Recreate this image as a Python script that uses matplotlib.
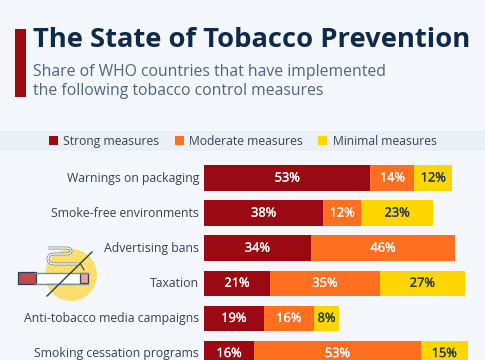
import matplotlib
matplotlib.use("Agg")
import matplotlib.pyplot as plt
import matplotlib.patheffects as pe
from matplotlib.patches import Rectangle, Circle, PathPatch
from matplotlib.path import Path
import numpy as np

categories = ["Warnings on packaging", "Smoke-free environments", "Advertising bans",
              "Taxation", "Anti-tobacco media campaigns", "Smoking cessation programs"]
strong = [53, 38, 34, 21, 19, 16]
moderate = [14, 12, 46, 35, 16, 53]
minimal = [12, 23, 0, 27, 8, 15]
series_names = ["Strong measures", "Moderate measures", "Minimal measures"]
title = "The State of Tobacco Prevention"
subtitle = ["Share of WHO countries that have implemented", "the following tobacco control measures"]

W, H = 485, 360
BG = "#f4f7fb"
RED, ORANGE, YELLOW = "#9b0a12", "#ff6f20", "#ffd600"
NAVY = "#0f2a4a"
GREY = "#4f6580"
LABEL = "#33445c"
plt.rcParams["font.family"] = ["Open Sans", "DejaVu Sans"]

fig = plt.figure(figsize=((W+0.01)/100, (H+0.01)/100), dpi=100, facecolor=BG)

# pixel overlay
ov = fig.add_axes([0, 0, 1, 1], zorder=1)
ov.set_xlim(0, W); ov.set_ylim(H, 0); ov.axis("off")
ov.add_patch(Rectangle((14.5, 29), 11.5, 68, fc=RED, ec="none"))
ov.text(32.5, 40, title, fontsize=19.7, fontweight="bold", color=NAVY, va="center", ha="left")
ov.text(32.5, 72, subtitle[0], fontsize=11.35, color=GREY, va="center", ha="left")
ov.text(32.5, 91, subtitle[1], fontsize=11.35, color=GREY, va="center", ha="left")
ov.add_patch(Rectangle((0, 131), W, 20, fc="#ebf0f6", ec="none"))
for x, tx, c, s in zip([49, 175, 318], [63, 189, 332.5], [RED, ORANGE, YELLOW], series_names):
    ov.add_patch(Rectangle((x, 136.5), 9, 9, fc=c, ec="none"))
    ov.text(tx, 141, s, fontsize=8.7, color=LABEL, va="center", ha="left")

# icon
ink = "#2c3e55"
ov.add_patch(Circle((71, 275), 26, fc="#fbdf6c", ec="none"))
ov.add_patch(Rectangle((35, 273.5), 53, 10, fc="white", ec="none"))
ov.add_patch(Rectangle((17.5, 272.5), 18, 11.5, fc="#c04a50", ec=ink, lw=0.9))
ov.add_patch(Rectangle((79.5, 273.5), 8, 10, fc="#e8a0a0", ec=ink, lw=0.9))
ov.plot([35, 88], [273.5, 273.5], color="#7d8a9a", lw=1)
ov.plot([35, 88], [284, 284], color="#7d8a9a", lw=1)
smoke = Path([(48, 248), (66, 248), (71, 248), (71, 251), (71, 254), (66, 254), (55, 254),
              (48, 254), (48, 259), (48, 264), (55, 264), (78, 264)],
             [Path.MOVETO, Path.LINETO, Path.CURVE3, Path.CURVE3, Path.CURVE3, Path.CURVE3,
              Path.LINETO, Path.CURVE3, Path.CURVE3, Path.CURVE3, Path.CURVE3, Path.LINETO])
ov.add_patch(PathPatch(smoke, fc="none", ec="#6b7888", lw=2.0))
ov.add_patch(PathPatch(smoke, fc="none", ec="white", lw=1.0))
ov.plot([80, 84], [263, 270], color=ink, lw=0.8)
ov.plot([47, 92], [296, 252], color=ink, lw=1.0)

# chart
x0, per = 204, 3.14
yc0, step = 178, 35.1
ax = fig.add_axes([x0/W, 0, (W-x0)/W, (H-152)/H], zorder=2)
ax.patch.set_alpha(0)
ax.set_xlim(0, (W-x0)/per)
ax.set_ylim((H-yc0)/step, (152-yc0)/step)
ax.axis("off")
y = np.arange(len(categories))
left = np.zeros(len(categories))
for vals, c, tc in zip([strong, moderate, minimal], [RED, ORANGE, YELLOW], ["white", "white", "#2b3a4a"]):
    vals = np.array(vals, float)
    ax.barh(y, vals, left=left, height=25.5/step, color=c, edgecolor="none")
    for yi, l, v in zip(y, left, vals):
        if v > 0:
            ax.text(l + v/2, yi, f"{int(v)}%", color=tc, fontsize=9.2,
                    ha="center", va="center", clip_on=True,
                    path_effects=[pe.withStroke(linewidth=0.25, foreground=tc)])
    left += vals
for yi, cat in zip(y, categories):
    ax.annotate(cat, xy=(0, yi), xytext=(-5, 0), textcoords="offset pixels", ha="right", va="center",
                fontsize=8.8, color=LABEL, annotation_clip=False)

fig.savefig("out.png", dpi=100, facecolor=BG)
